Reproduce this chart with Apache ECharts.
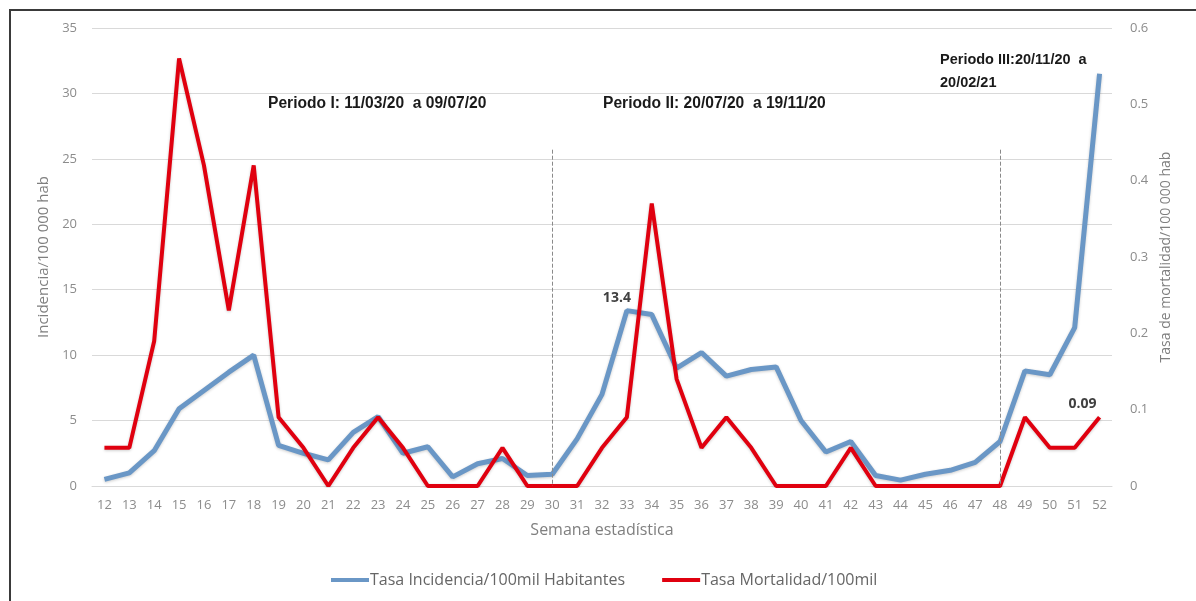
<!DOCTYPE html>
<html>
<head>
<meta charset="utf-8">
<script src="https://cdn.jsdelivr.net/npm/echarts@6/dist/echarts.min.js"></script>
<style>
  html, body { margin: 0; padding: 0; background: #fff; }
  #chart { width: 1196px; height: 601px; }
</style>
</head>
<body>
<div id="chart"></div>
<script>
// semanas estadisticas
var weeks = ["12","13","14","15","16","17","18","19","20","21","22","23","24","25","26","27","28","29","30","31","32",
             "33","34","35","36","37","38","39","40","41","42","43","44","45","46","47","48","49","50","51","52"];

// Tasa Incidencia/100mil Habitantes (eje izquierdo)
var incidencia = [0.5, 1.0, 2.7, 5.9, 7.3, 8.7, 10.0, 3.1, 2.5, 2.0, 4.1, 5.3, 2.5, 3.0, 0.7, 1.7, 2.1, 0.8, 0.9, 3.6, 7.0,
                  13.4, 13.1, 9.0, 10.2, 8.4, 8.9, 9.1, 5.0, 2.6, 3.4, 0.8, 0.45, 0.9, 1.2, 1.8, 3.4, 8.8, 8.5, 12.1, 31.5];

// Tasa Mortalidad/100mil (eje derecho)
var mortalidad = [0.05, 0.05, 0.19, 0.56, 0.42, 0.23, 0.42, 0.09, 0.05, 0, 0.05, 0.09, 0.05, 0, 0, 0, 0.05, 0, 0, 0, 0.05,
                  0.09, 0.37, 0.14, 0.05, 0.09, 0.05, 0, 0, 0, 0.05, 0, 0, 0, 0, 0, 0, 0.09, 0.05, 0.05, 0.09];

// semanas donde cambia el periodo (lineas punteadas)
var cortes = ["30", "48"];
var corteTop = 25.7;

var myChart = echarts.init(document.getElementById("chart"));

var grisEje = "#8c8c8c";
var fuente = "'Open Sans'";
var lineasCorte = [];
for (var i = 0; i < cortes.length; i++) {
  lineasCorte.push([{ xAxis: cortes[i], yAxis: corteTop }, { xAxis: cortes[i], yAxis: 0 }]);
}

var etiqueta = function (txt, dx) {
  return { show: true, position: "top", offset: [dx, -1], formatter: txt,
    color: "#404040", fontWeight: "bold", fontSize: 14, fontFamily: fuente };
};
var incData = incidencia.map(function (v, i) {
  if (weeks[i] === "33") return { value: v, label: etiqueta("13.4", -10) };
  return v;
});
var morData = mortalidad.map(function (v, i) {
  if (weeks[i] === "52") return { value: v, label: etiqueta("0.09", -17) };
  return v;
});

var textoPeriodo = "bold 15.6px 'Liberation Sans'";

myChart.setOption({
  animation: false,
  grid: { left: 92, right: 84, top: 28, bottom: 115 },
  legend: {
    left: 326,
    top: 567,
    icon: "rect",
    itemWidth: 38,
    itemHeight: 4,
    itemGap: 37,
    textStyle: { color: "#666", fontSize: 16, fontFamily: fuente, padding: [0, 0, 0, -4] },
    data: ["Tasa Incidencia/100mil Habitantes", "Tasa Mortalidad/100mil"]
  },
  xAxis: {
    type: "category",
    data: weeks,
    name: "Semana estadística",
    nameLocation: "middle",
    nameGap: 36,
    nameTextStyle: { color: "#7f7f7f", fontSize: 16, fontFamily: fuente },
    axisLine: { show: true, lineStyle: { color: "#d9d9d9" } },
    axisTick: { show: false },
    axisLabel: { color: grisEje, fontSize: 13, fontFamily: fuente, margin: 13 }
  },
  yAxis: [
    {
      type: "value",
      min: 0, max: 35, interval: 5,
      name: "Incidencia/100 000 hab",
      nameLocation: "middle",
      nameGap: 40,
      nameTextStyle: { color: "#7f7f7f", fontSize: 15, fontFamily: fuente },
      axisLine: { show: false },
      axisTick: { show: false },
      axisLabel: { color: grisEje, fontSize: 13, fontFamily: fuente, margin: 15 },
      splitLine: { lineStyle: { color: "#d9d9d9", width: 1 } }
    },
    {
      type: "value",
      min: 0, max: 0.6, interval: 0.1,
      name: "Tasa de mortalidad/100 000 hab",
      nameLocation: "middle",
      nameGap: 46,
      nameTextStyle: { color: "#7f7f7f", fontSize: 14, fontFamily: fuente },
      axisLine: { show: false },
      axisTick: { show: false },
      axisLabel: { color: grisEje, fontSize: 13, fontFamily: fuente, margin: 18 },
      splitLine: { show: false }
    }
  ],
  graphic: [
    { type: "polyline", shape: { points: [[10, 601], [10, 10], [1196, 10]] },
      style: { stroke: "#3a3a3a", lineWidth: 2, fill: null } },
    { type: "text", left: 268, top: 96,
      style: { text: "Periodo I: 11/03/20  a 09/07/20", fill: "#1a1a1a", font: textoPeriodo } },
    { type: "text", left: 603, top: 96,
      style: { text: "Periodo II: 20/07/20  a 19/11/20", fill: "#1a1a1a", font: textoPeriodo } },
    { type: "text", left: 940, top: 48,
      style: { text: "Periodo III:20/11/20  a\n20/02/21", lineHeight: 23, fill: "#1a1a1a", font: "bold 14.5px 'Liberation Sans'" } }
  ],
  series: [
    {
      name: "Tasa Incidencia/100mil Habitantes",
      type: "line",
      yAxisIndex: 0,
      data: incData,
      symbol: "circle",
      symbolSize: 0,
      showSymbol: true,
      color: "#6a97c6",
      lineStyle: { width: 5, color: "#6a97c6", shadowColor: "rgba(0,0,0,0.2)", shadowBlur: 3, shadowOffsetY: 1 },
      markLine: {
        silent: true,
        symbol: "none",
        label: { show: false },
        lineStyle: { type: "dashed", color: "#8a8a8a", width: 1 },
        data: lineasCorte
      }
    },
    {
      name: "Tasa Mortalidad/100mil",
      type: "line",
      yAxisIndex: 1,
      data: morData,
      symbol: "circle",
      symbolSize: 0,
      showSymbol: true,
      color: "#e0000f",
      lineStyle: { width: 4, color: "#e0000f", shadowColor: "rgba(0,0,0,0.2)", shadowBlur: 3, shadowOffsetY: 1 }
    }
  ]
});
</script>
</body>
</html>
